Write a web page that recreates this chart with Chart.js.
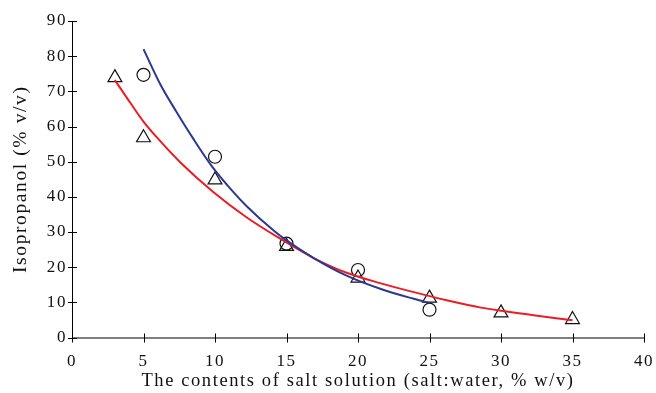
<!DOCTYPE html>
<html lang="en">
<head>
<meta charset="UTF-8">
<title>Isopropanol vs salt solution</title>
<script src="https://cdn.jsdelivr.net/npm/chart.js"></script>
<style>
    html, body { margin: 0; padding: 0; background: #fff; }
    .wrap { position: relative; width: 656px; height: 393px; }
</style>
</head>
<body>
<div class="wrap"><canvas id="chart"></canvas></div>
<script>
// measured points
const circleX = [5, 10, 15, 20, 25];
const circleY = [74.7, 51.4, 26.7, 19.2, 7.9];
const triangleX = [3, 5, 10, 15, 20, 25, 30, 35];
const triangleY = [73.9, 56.8, 44.8, 25.9, 16.9, 11.2, 7.0, 5.1];

// trend lines
const blueX = [5, 6.2, 7.3, 8.5, 9.8, 11.1, 12.2, 14.1, 15, 16.9, 19.2, 21.6, 23.9, 25];
const blueY = [82, 71.8, 64.2, 56.4, 48.6, 42.2, 37.4, 30.4, 27.6, 22.6, 17.6, 13.8, 11.0, 9.8];
const redX = [3, 4.1, 5, 6, 7.6, 9.9, 12.2, 14.6, 16.9, 19.2, 21.6, 23.9, 26.2, 28.6, 30, 35];
const redY = [73.2, 66.6, 61.4, 56.6, 49.7, 41.3, 34.2, 28, 22.6, 18.4, 15.4, 12.9, 10.6, 8.5, 7.6, 4.9];

const xTicks = [0, 5, 10, 15, 20, 25, 30, 35, 40];
const yTicks = [0, 10, 20, 30, 40, 50, 60, 70, 80, 90];

const pts = (xs, ys) => xs.map((x, i) => ({ x: x, y: ys[i] }));

// the original text is set wide
const spacing = {
    id: 'spacing',
    beforeLayout(chart) { chart.ctx.letterSpacing = '1.6px'; },
    beforeDraw(chart) { chart.ctx.letterSpacing = '1.6px'; }
};

// axis ticks that cross the axis line
const crossTicks = {
    id: 'crossTicks',
    afterDraw(chart) {
        const ctx = chart.ctx;
        const xs = chart.scales.x, ys = chart.scales.y;
        ctx.save();
        ctx.strokeStyle = '#000';
        ctx.lineWidth = 1;
        ctx.beginPath();
        ctx.moveTo(xs.left, ys.bottom + 0.5);
        ctx.lineTo(xs.right, ys.bottom + 0.5);
        ctx.moveTo(xs.left + 0.5, ys.top);
        ctx.lineTo(xs.left + 0.5, ys.bottom);
        xTicks.forEach(v => {
            const px = Math.round(xs.getPixelForValue(v)) + 0.5;
            ctx.moveTo(px, ys.bottom - 4);
            ctx.lineTo(px, ys.bottom + 5);
        });
        yTicks.forEach(v => {
            const py = Math.round(ys.getPixelForValue(v)) + 0.5;
            ctx.moveTo(xs.left - 4, py);
            ctx.lineTo(xs.left + 5, py);
        });
        ctx.stroke();
        ctx.restore();
    }
};

const family = "'Liberation Serif', 'Times New Roman', serif";

new Chart(document.getElementById('chart'), {
    type: 'scatter',
    data: {
        datasets: [
            {
                type: 'line',
                data: pts(blueX, blueY),
                borderColor: '#2b3990',
                borderWidth: 2,
                pointRadius: 0,
                cubicInterpolationMode: 'monotone',
                fill: false
            },
            {
                type: 'line',
                data: pts(redX, redY),
                borderColor: '#ed1c24',
                borderWidth: 2,
                pointRadius: 0,
                cubicInterpolationMode: 'monotone',
                fill: false
            },
            {
                data: pts(circleX, circleY),
                pointStyle: 'circle',
                pointRadius: 6.5,
                pointBorderWidth: 1.2,
                borderColor: '#111',
                backgroundColor: 'rgba(0,0,0,0)'
            },
            {
                data: pts(triangleX, triangleY),
                pointStyle: 'triangle',
                pointRadius: 8,
                pointBorderWidth: 1.2,
                borderColor: '#111',
                backgroundColor: 'rgba(0,0,0,0)'
            }
        ]
    },
    options: {
        responsive: true,
        maintainAspectRatio: false,
        animation: false,
        layout: { padding: { top: 21, right: 0, left: 0, bottom: 0 } },
        plugins: { legend: { display: false }, tooltip: { enabled: false } },
        scales: {
            x: {
                type: 'linear',
                min: 0,
                max: 40,
                afterBuildTicks: s => { s.ticks = xTicks.map(v => ({ value: v })); },
                afterFit: s => { s.height = 55.5; s.paddingLeft = 0; s.paddingRight = 12; },
                grid: { display: false, drawTicks: false },
                border: { display: false },
                ticks: { color: '#111', font: { family: family, size: 17 }, padding: 14, maxRotation: 0 },
                title: {
                    display: true,
                    text: 'The contents of salt solution (salt:water, % w/v)',
                    color: '#111',
                    font: { family: family, size: 18.5 },
                    padding: { top: 0, bottom: 1 }
                }
            },
            y: {
                type: 'linear',
                min: 0,
                max: 90,
                afterBuildTicks: s => { s.ticks = yTicks.map(v => ({ value: v })); },
                afterFit: s => { s.width = 72; },
                grid: { display: false, drawTicks: false },
                border: { display: false },
                ticks: { color: '#111', font: { family: family, size: 17 }, padding: 5 },
                title: {
                    display: true,
                    text: 'Isopropanol (% v/v)',
                    color: '#111',
                    font: { family: family, size: 19.5 },
                    padding: { top: 9, bottom: 0 }
                }
            }
        }
    },
    plugins: [spacing, crossTicks]
});
</script>
</body>
</html>
